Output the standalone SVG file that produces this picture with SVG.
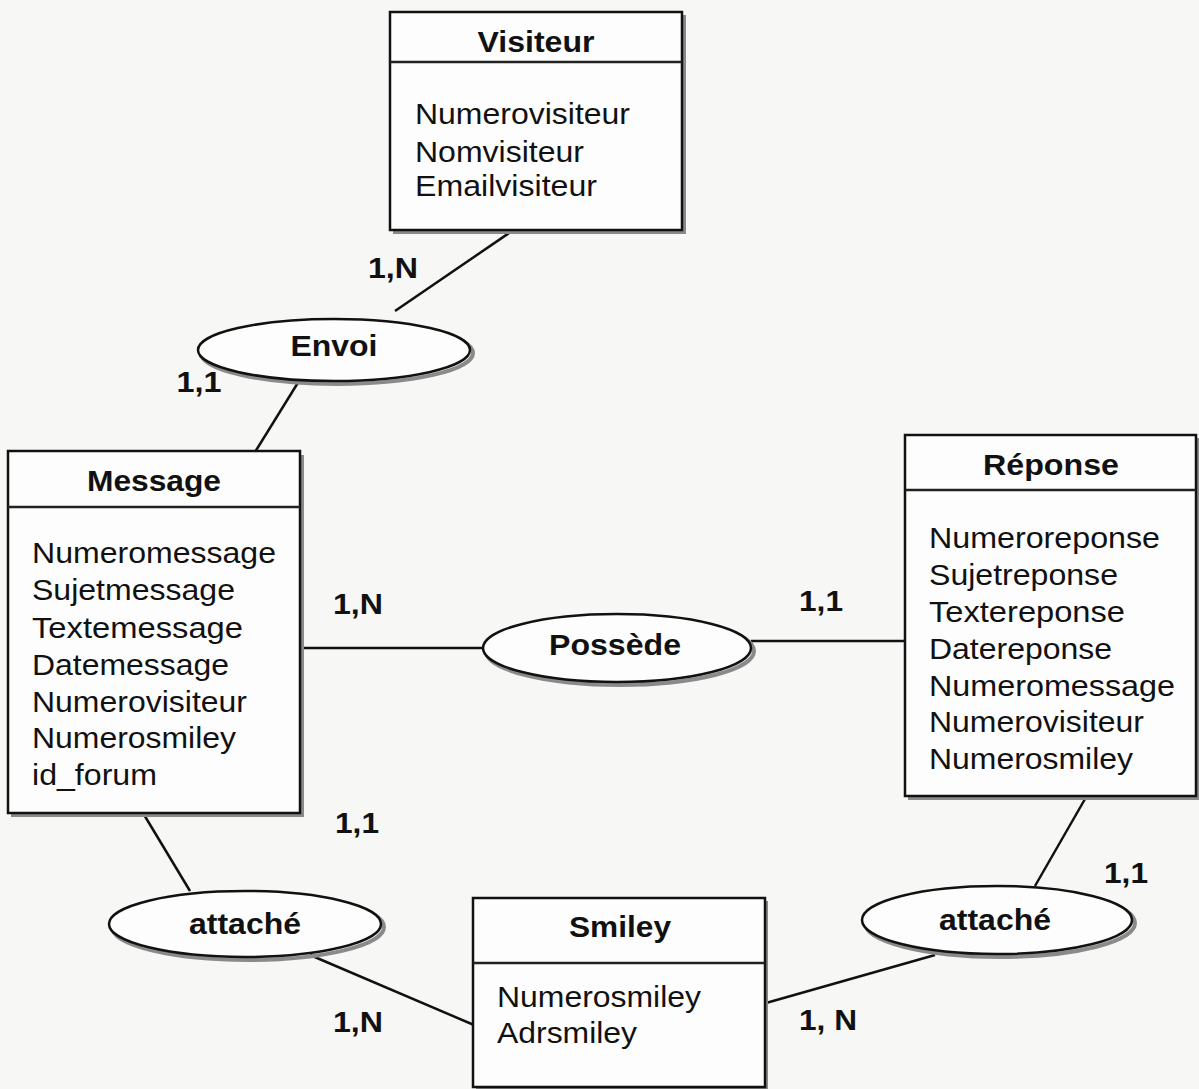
<svg xmlns="http://www.w3.org/2000/svg" width="1199" height="1089" viewBox="0 0 1199 1089">
  <style>
    .box { fill: #fdfdfd; stroke: #111; stroke-width: 2.5; }
    .shadow { fill: #8a8a8a; }
    .sep { stroke: #222; stroke-width: 2.5; }
    .rel { fill: #fdfdfd; stroke: #111; stroke-width: 2.5; }
    .relshadow { fill: none; stroke: #8a8a8a; stroke-width: 4; }
    .link { stroke: #111; stroke-width: 2.5; fill: none; }
    text { font-family: "Liberation Sans", Arial, sans-serif; fill: #111; }
    .title { font-size: 30px; font-weight: bold; text-anchor: middle; }
    .attr { font-size: 30px; }
    .card { font-size: 30px; font-weight: bold; text-anchor: middle; }
  </style>
  <rect width="1199" height="1089" fill="#f7f7f6"/>

  <!-- connectors -->
  <g id="connectors">
    <line class="link" x1="512" y1="231" x2="395" y2="311"/>
    <line class="link" x1="299" y1="381" x2="255" y2="452"/>
    <line class="link" x1="302" y1="648" x2="483" y2="648"/>
    <line class="link" x1="751" y1="641" x2="905" y2="641"/>
    <line class="link" x1="143" y1="813" x2="190" y2="891"/>
    <line class="link" x1="310" y1="955" x2="474" y2="1025"/>
    <line class="link" x1="766" y1="1003" x2="935" y2="955"/>
    <line class="link" x1="1085" y1="799" x2="1035" y2="886"/>
  </g>

  <!-- entities -->
  <g id="visiteur">
    <rect class="shadow" x="393" y="15" width="293" height="219"/>
    <rect class="box" x="390" y="12" width="292" height="218"/>
    <line class="sep" x1="390" y1="62" x2="682" y2="62"/>
    <text class="title" x="536" y="52" textLength="117" lengthAdjust="spacingAndGlyphs">Visiteur</text>
    <text class="attr" x="415" y="124" textLength="215" lengthAdjust="spacingAndGlyphs">Numerovisiteur</text>
    <text class="attr" x="415" y="162" textLength="169" lengthAdjust="spacingAndGlyphs">Nomvisiteur</text>
    <text class="attr" x="415" y="196" textLength="182" lengthAdjust="spacingAndGlyphs">Emailvisiteur</text>
  </g>

  <g id="message">
    <rect class="shadow" x="11" y="455" width="293" height="362"/>
    <rect class="box" x="8" y="451" width="292" height="362"/>
    <line class="sep" x1="8" y1="507" x2="300" y2="507"/>
    <text class="title" x="154" y="491" textLength="134" lengthAdjust="spacingAndGlyphs">Message</text>
    <text class="attr" x="32" y="563" textLength="244" lengthAdjust="spacingAndGlyphs">Numeromessage</text>
    <text class="attr" x="32" y="600" textLength="203" lengthAdjust="spacingAndGlyphs">Sujetmessage</text>
    <text class="attr" x="32" y="638" textLength="211" lengthAdjust="spacingAndGlyphs">Textemessage</text>
    <text class="attr" x="32" y="675" textLength="197" lengthAdjust="spacingAndGlyphs">Datemessage</text>
    <text class="attr" x="32" y="712" textLength="215" lengthAdjust="spacingAndGlyphs">Numerovisiteur</text>
    <text class="attr" x="32" y="748" textLength="204" lengthAdjust="spacingAndGlyphs">Numerosmiley</text>
    <text class="attr" x="32" y="785" textLength="125" lengthAdjust="spacingAndGlyphs">id_forum</text>
  </g>

  <g id="reponse">
    <rect class="shadow" x="908" y="438" width="291" height="362"/>
    <rect class="box" x="905" y="435" width="291" height="361"/>
    <line class="sep" x1="905" y1="490" x2="1196" y2="490"/>
    <text class="title" x="1051" y="475" textLength="136" lengthAdjust="spacingAndGlyphs">Réponse</text>
    <text class="attr" x="929" y="548" textLength="231" lengthAdjust="spacingAndGlyphs">Numeroreponse</text>
    <text class="attr" x="929" y="585" textLength="189" lengthAdjust="spacingAndGlyphs">Sujetreponse</text>
    <text class="attr" x="929" y="622" textLength="196" lengthAdjust="spacingAndGlyphs">Textereponse</text>
    <text class="attr" x="929" y="659" textLength="183" lengthAdjust="spacingAndGlyphs">Datereponse</text>
    <text class="attr" x="929" y="696" textLength="246" lengthAdjust="spacingAndGlyphs">Numeromessage</text>
    <text class="attr" x="929" y="732" textLength="215" lengthAdjust="spacingAndGlyphs">Numerovisiteur</text>
    <text class="attr" x="929" y="769" textLength="204" lengthAdjust="spacingAndGlyphs">Numerosmiley</text>
  </g>

  <g id="smiley">
    <rect class="shadow" x="476" y="901" width="292" height="190"/>
    <rect class="box" x="473" y="898" width="292" height="189"/>
    <line class="sep" x1="473" y1="963" x2="765" y2="963"/>
    <text class="title" x="620" y="937" textLength="102" lengthAdjust="spacingAndGlyphs">Smiley</text>
    <text class="attr" x="497" y="1007" textLength="204" lengthAdjust="spacingAndGlyphs">Numerosmiley</text>
    <text class="attr" x="497" y="1043" textLength="140" lengthAdjust="spacingAndGlyphs">Adrsmiley</text>
  </g>

  <!-- associations -->
  <g id="envoi">
    <ellipse class="relshadow" cx="337" cy="353" rx="136" ry="31"/>
    <ellipse class="rel" cx="334" cy="350" rx="136" ry="31"/>
    <text class="title" x="334" y="356" textLength="87" lengthAdjust="spacingAndGlyphs">Envoi</text>
  </g>

  <g id="possede">
    <ellipse class="relshadow" cx="620" cy="651" rx="134" ry="34"/>
    <ellipse class="rel" cx="617" cy="648" rx="134" ry="34"/>
    <text class="title" x="615" y="655" textLength="132" lengthAdjust="spacingAndGlyphs">Possède</text>
  </g>

  <g id="attache-message">
    <ellipse class="relshadow" cx="248" cy="927" rx="136" ry="33"/>
    <ellipse class="rel" cx="245" cy="924" rx="136" ry="33"/>
    <text class="title" x="245" y="934" textLength="112" lengthAdjust="spacingAndGlyphs">attaché</text>
  </g>

  <g id="attache-reponse">
    <ellipse class="relshadow" cx="1000" cy="923" rx="135" ry="34"/>
    <ellipse class="rel" cx="997" cy="920" rx="135" ry="34"/>
    <text class="title" x="995" y="930" textLength="112" lengthAdjust="spacingAndGlyphs">attaché</text>
  </g>

  <!-- cardinalities -->
  <g id="cardinalities">
    <text class="card" x="393" y="278" textLength="50" lengthAdjust="spacingAndGlyphs">1,N</text>
    <text class="card" x="199" y="392" textLength="45" lengthAdjust="spacingAndGlyphs">1,1</text>
    <text class="card" x="358" y="614" textLength="50" lengthAdjust="spacingAndGlyphs">1,N</text>
    <text class="card" x="821" y="611" textLength="44" lengthAdjust="spacingAndGlyphs">1,1</text>
    <text class="card" x="357" y="833" textLength="44" lengthAdjust="spacingAndGlyphs">1,1</text>
    <text class="card" x="1126" y="883" textLength="44" lengthAdjust="spacingAndGlyphs">1,1</text>
    <text class="card" x="358" y="1032" textLength="50" lengthAdjust="spacingAndGlyphs">1,N</text>
    <text class="card" x="828" y="1030" textLength="58" lengthAdjust="spacingAndGlyphs">1, N</text>
  </g>
</svg>
